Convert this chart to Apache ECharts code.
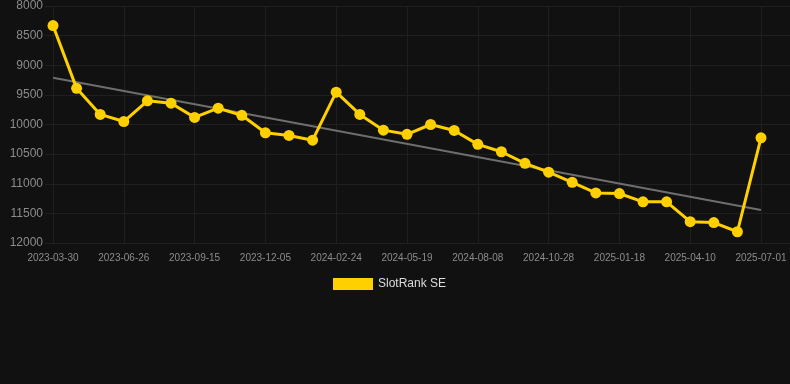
<!DOCTYPE html>
<html>
<head>
<meta charset="utf-8">
<script src="https://cdn.jsdelivr.net/npm/echarts@6/dist/echarts.min.js"></script>
<style>
html,body{margin:0;padding:0;background:#111111;}
#c{width:790px;height:384px;}
</style>
</head>
<body>
<div id="c"></div>
<script>
var categories = [
  '2023-03-30','2023-04-28','2023-05-27','2023-06-26','2023-07-23','2023-08-19',
  '2023-09-15','2023-10-12','2023-11-08','2023-12-05','2024-01-01','2024-01-28',
  '2024-02-24','2024-03-23','2024-04-21','2024-05-19','2024-06-15','2024-07-12',
  '2024-08-08','2024-09-04','2024-10-01','2024-10-28','2024-11-24','2024-12-21',
  '2025-01-18','2025-02-14','2025-03-13','2025-04-10','2025-05-07','2025-06-03',
  '2025-07-01'
];
var rankValues = [
  8330, 9390, 9830, 9950, 9600, 9640, 9880, 9725, 9845, 10140,
  10185, 10265, 9455, 9830, 10095, 10165, 10000, 10100, 10335, 10460,
  10655, 10805, 10975, 11155, 11165, 11305, 11305, 11640, 11655, 11810,
  10225
];
var trendStart = 9210;
var trendEnd = 11443;
var yMin = 8000, yMax = 12000, yStep = 500;
var seriesName = 'SlotRank SE';

var chart = echarts.init(document.getElementById('c'));
chart.setOption({
  backgroundColor: '#111111',
  animation: false,
  grid: [
    {left: 45, right: 0, top: 6, bottom: 141, containLabel: false},
    {left: 53, right: 29, top: 6, bottom: 141, containLabel: false}
  ],
  legend: {
    data: [seriesName],
    icon: 'rect',
    itemWidth: 40,
    itemHeight: 12,
    itemGap: 10,
    padding: 0,
    top: 278,
    left: 333,
    textStyle: {color: '#dddddd', fontSize: 12, fontFamily: 'Liberation Sans, Arial, sans-serif'}
  },
  xAxis: [
    {gridIndex: 0, type: 'value', min: 0, max: 1, show: false},
    {
      gridIndex: 1, type: 'category', data: categories, boundaryGap: false,
      axisLine: {show: false}, axisTick: {show: false},
      axisLabel: {interval: 2, color: '#8c8c8c', fontSize: 10, margin: 10,
        fontFamily: 'Liberation Sans, Arial, sans-serif', showMaxLabel: true},
      splitLine: {show: true, interval: 2, lineStyle: {color: '#1f1f1f', width: 1}}
    }
  ],
  yAxis: [
    {gridIndex: 0, type: 'value', inverse: true, min: yMin, max: yMax, interval: yStep,
      axisLabel: {show: false}, axisLine: {show: false}, axisTick: {show: false},
      splitLine: {show: true, lineStyle: {color: '#1f1f1f', width: 1}}},
    {gridIndex: 1, type: 'value', inverse: true, min: yMin, max: yMax, interval: yStep,
      axisLine: {show: false}, axisTick: {show: false},
      splitLine: {show: false},
      axisLabel: {color: '#8c8c8c', fontSize: 12, margin: 10,
        formatter: function (v) { return String(v); },
        fontFamily: 'Liberation Sans, Arial, sans-serif'}}
  ],
  series: [
    {
      name: seriesName,
      type: 'line',
      xAxisIndex: 1, yAxisIndex: 1,
      data: rankValues,
      color: '#FFD000',
      symbol: 'circle',
      symbolSize: 11,
      lineStyle: {color: '#FFD000', width: 3},
      itemStyle: {color: '#FFD000'},
      z: 3,
      markLine: {
        silent: true,
        symbol: ['none', 'none'],
        label: {show: false},
        lineStyle: {color: '#6e6e6e', width: 2, type: 'solid'},
        data: [[
          {coord: [categories[0], trendStart]},
          {coord: [categories[categories.length - 1], trendEnd]}
        ]],
        z: 1
      }
    }
  ]
});
</script>
</body>
</html>
